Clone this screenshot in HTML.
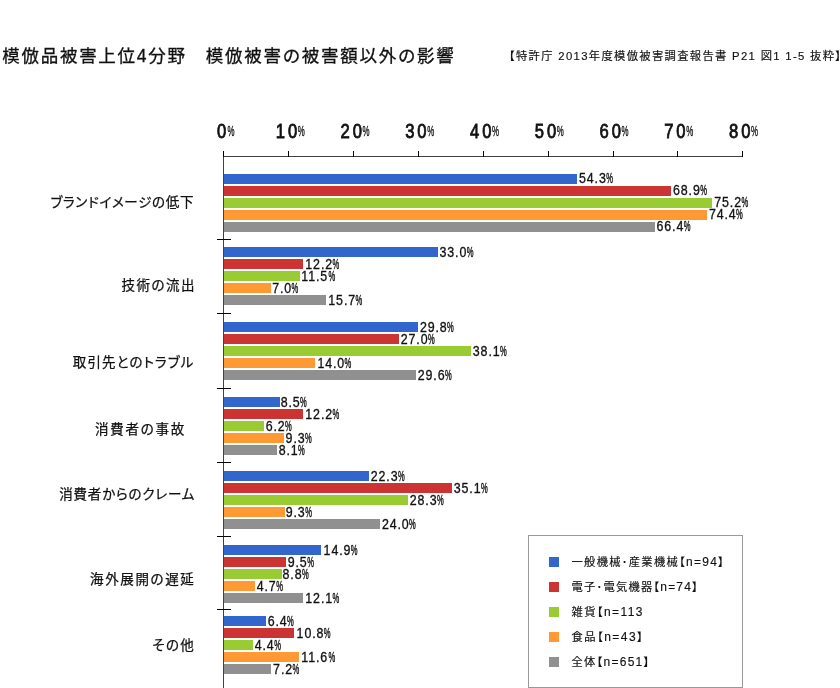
<!DOCTYPE html>
<html lang="ja">
<head>
<meta charset="utf-8">
<title>模倣品被害上位4分野 模倣被害の被害額以外の影響</title>
<style>
html,body{margin:0;padding:0;background:#fff;}
body{width:840px;height:688px;overflow:hidden;}
svg{display:block;}
text{font-family:"Liberation Sans","Noto Sans CJK JP",sans-serif;fill:#111;}
.title{font-size:17.5px;stroke:#111;stroke-width:.3px;}
.src{font-size:11.3px;font-feature-settings:"palt";stroke:#111;stroke-width:.15px;}
.cat{font-size:13.5px;font-feature-settings:"palt";stroke:#111;stroke-width:.25px;}
.ax{font-size:19.8px;stroke:#111;stroke-width:.75px;vector-effect:non-scaling-stroke;}
.axp{font-size:14.6px;stroke:#111;stroke-width:.3px;vector-effect:non-scaling-stroke;}
.v{font-size:13.8px;stroke:#111;stroke-width:.3px;vector-effect:non-scaling-stroke;}
.vp{font-size:13.8px;stroke:#111;stroke-width:.35px;vector-effect:non-scaling-stroke;}
.lg{font-size:11.3px;font-feature-settings:"palt";stroke:#111;stroke-width:.15px;}
.ln{font-size:12px;}
</style>
</head>
<body>
<svg width="840" height="688" viewBox="0 0 840 688">
<rect width="840" height="688" fill="#fff"/>
<text class="title" x="2.3" y="61.8" textLength="451.5" lengthAdjust="spacing">模倣品被害上位4分野　模倣被害の被害額以外の影響</text>
<text class="src" x="509" y="60" textLength="332" lengthAdjust="spacing">【特許庁 2013年度模倣被害調査報告書 P21 図1 1-5 抜粋】</text>
<g shape-rendering="crispEdges">
<rect x="223" y="156" width="520" height="1" fill="#404040"/>
<rect x="223" y="156" width="1" height="532" fill="#404040"/>
<rect x="223" y="151" width="1" height="6" fill="#000"/>
<rect x="288" y="151" width="1" height="6" fill="#000"/>
<rect x="353" y="151" width="1" height="6" fill="#000"/>
<rect x="418" y="151" width="1" height="6" fill="#000"/>
<rect x="483" y="151" width="1" height="6" fill="#000"/>
<rect x="548" y="151" width="1" height="6" fill="#000"/>
<rect x="613" y="151" width="1" height="6" fill="#000"/>
<rect x="677" y="151" width="1" height="6" fill="#000"/>
<rect x="742" y="151" width="1" height="6" fill="#000"/>
<rect x="217" y="239" width="14" height="1" fill="#000"/>
<rect x="217" y="313" width="14" height="1" fill="#000"/>
<rect x="217" y="388" width="14" height="1" fill="#000"/>
<rect x="217" y="462" width="14" height="1" fill="#000"/>
<rect x="217" y="536" width="14" height="1" fill="#000"/>
<rect x="217" y="609" width="14" height="1" fill="#000"/>
</g>
<text class="ax" transform="translate(216.9,137.7) scale(.84,1)" letter-spacing="3.45">0</text>
<text class="axp" transform="translate(227.4,136) scale(.54,1)">%</text>
<text class="ax" transform="translate(275.8,137.7) scale(.84,1)" letter-spacing="3.45">10</text>
<text class="axp" transform="translate(297.8,136) scale(.54,1)">%</text>
<text class="ax" transform="translate(340.5,137.7) scale(.84,1)" letter-spacing="3.45">20</text>
<text class="axp" transform="translate(362.5,136) scale(.54,1)">%</text>
<text class="ax" transform="translate(405.2,137.7) scale(.84,1)" letter-spacing="3.45">30</text>
<text class="axp" transform="translate(427.2,136) scale(.54,1)">%</text>
<text class="ax" transform="translate(470.0,137.7) scale(.84,1)" letter-spacing="3.45">40</text>
<text class="axp" transform="translate(492.0,136) scale(.54,1)">%</text>
<text class="ax" transform="translate(534.8,137.7) scale(.84,1)" letter-spacing="3.45">50</text>
<text class="axp" transform="translate(556.8,136) scale(.54,1)">%</text>
<text class="ax" transform="translate(599.5,137.7) scale(.84,1)" letter-spacing="3.45">60</text>
<text class="axp" transform="translate(621.5,136) scale(.54,1)">%</text>
<text class="ax" transform="translate(664.2,137.7) scale(.84,1)" letter-spacing="3.45">70</text>
<text class="axp" transform="translate(686.2,136) scale(.54,1)">%</text>
<text class="ax" transform="translate(729.0,137.7) scale(.84,1)" letter-spacing="3.45">80</text>
<text class="axp" transform="translate(751.0,136) scale(.54,1)">%</text>
<g shape-rendering="crispEdges">
<rect x="224" y="174" width="353" height="10" fill="#3366cc"/>
<rect x="224" y="186" width="447" height="10" fill="#cc3333"/>
<rect x="224" y="198" width="488" height="10" fill="#99cc33"/>
<rect x="224" y="210" width="483" height="10" fill="#ff9933"/>
<rect x="224" y="222" width="431" height="10" fill="#909090"/>
<rect x="224" y="247" width="214" height="10" fill="#3366cc"/>
<rect x="224" y="259" width="79" height="10" fill="#cc3333"/>
<rect x="224" y="271" width="76" height="10" fill="#99cc33"/>
<rect x="224" y="283" width="47" height="10" fill="#ff9933"/>
<rect x="224" y="295" width="102" height="10" fill="#909090"/>
<rect x="224" y="322" width="194" height="10" fill="#3366cc"/>
<rect x="224" y="334" width="175" height="10" fill="#cc3333"/>
<rect x="224" y="346" width="247" height="10" fill="#99cc33"/>
<rect x="224" y="358" width="91" height="10" fill="#ff9933"/>
<rect x="224" y="370" width="192" height="10" fill="#909090"/>
<rect x="224" y="397" width="56" height="10" fill="#3366cc"/>
<rect x="224" y="409" width="79" height="10" fill="#cc3333"/>
<rect x="224" y="421" width="40" height="10" fill="#99cc33"/>
<rect x="224" y="433" width="60" height="10" fill="#ff9933"/>
<rect x="224" y="445" width="53" height="10" fill="#909090"/>
<rect x="224" y="471" width="145" height="10" fill="#3366cc"/>
<rect x="224" y="483" width="228" height="10" fill="#cc3333"/>
<rect x="224" y="495" width="184" height="10" fill="#99cc33"/>
<rect x="224" y="507" width="61" height="10" fill="#ff9933"/>
<rect x="224" y="519" width="156" height="10" fill="#909090"/>
<rect x="224" y="545" width="97" height="10" fill="#3366cc"/>
<rect x="224" y="557" width="62" height="10" fill="#cc3333"/>
<rect x="224" y="569" width="58" height="10" fill="#99cc33"/>
<rect x="224" y="581" width="31" height="10" fill="#ff9933"/>
<rect x="224" y="593" width="79" height="10" fill="#909090"/>
<rect x="224" y="616" width="42" height="10" fill="#3366cc"/>
<rect x="224" y="628" width="70" height="10" fill="#cc3333"/>
<rect x="224" y="640" width="29" height="10" fill="#99cc33"/>
<rect x="224" y="652" width="75" height="10" fill="#ff9933"/>
<rect x="224" y="664" width="47" height="10" fill="#909090"/>
</g>
<text class="v" transform="translate(579.0,183.0) scale(0.9,1)" letter-spacing="1.0">54.3</text>
<text class="vp" transform="translate(606.3,183.0) scale(.55,1)">%</text>
<text class="v" transform="translate(673.0,195.0) scale(0.9,1)" letter-spacing="1.0">68.9</text>
<text class="vp" transform="translate(700.2,195.0) scale(.55,1)">%</text>
<text class="v" transform="translate(714.2,207.0) scale(0.9,1)" letter-spacing="1.0">75.2</text>
<text class="vp" transform="translate(741.4,207.0) scale(.55,1)">%</text>
<text class="v" transform="translate(708.9,219.0) scale(0.9,1)" letter-spacing="1.0">74.4</text>
<text class="vp" transform="translate(736.1,219.0) scale(.55,1)">%</text>
<text class="v" transform="translate(656.5,231.0) scale(0.9,1)" letter-spacing="1.0">66.4</text>
<text class="vp" transform="translate(683.7,231.0) scale(.55,1)">%</text>
<text class="v" transform="translate(439.5,256.8) scale(0.9,1)" letter-spacing="1.0">33.0</text>
<text class="vp" transform="translate(466.8,256.8) scale(.55,1)">%</text>
<text class="v" transform="translate(305.3,268.8) scale(0.9,1)" letter-spacing="1.0">12.2</text>
<text class="vp" transform="translate(332.5,268.8) scale(.55,1)">%</text>
<text class="v" transform="translate(301.3,280.8) scale(0.9,1)" letter-spacing="1.0">11.5</text>
<text class="vp" transform="translate(328.5,280.8) scale(.55,1)">%</text>
<text class="v" transform="translate(272.2,292.8) scale(0.9,1)" letter-spacing="1.0">7.0</text>
<text class="vp" transform="translate(291.6,292.8) scale(.55,1)">%</text>
<text class="v" transform="translate(328.3,304.8) scale(0.9,1)" letter-spacing="1.0">15.7</text>
<text class="vp" transform="translate(355.5,304.8) scale(.55,1)">%</text>
<text class="v" transform="translate(419.9,331.8) scale(0.9,1)" letter-spacing="1.0">29.8</text>
<text class="vp" transform="translate(447.1,331.8) scale(.55,1)">%</text>
<text class="v" transform="translate(400.7,343.8) scale(0.9,1)" letter-spacing="1.0">27.0</text>
<text class="vp" transform="translate(427.9,343.8) scale(.55,1)">%</text>
<text class="v" transform="translate(472.8,355.8) scale(0.9,1)" letter-spacing="1.0">38.1</text>
<text class="vp" transform="translate(500.1,355.8) scale(.55,1)">%</text>
<text class="v" transform="translate(317.4,367.8) scale(0.9,1)" letter-spacing="1.0">14.0</text>
<text class="vp" transform="translate(344.6,367.8) scale(.55,1)">%</text>
<text class="v" transform="translate(417.7,379.8) scale(0.9,1)" letter-spacing="1.0">29.6</text>
<text class="vp" transform="translate(444.9,379.8) scale(.55,1)">%</text>
<text class="v" transform="translate(280.7,406.8) scale(0.9,1)" letter-spacing="1.0">8.5</text>
<text class="vp" transform="translate(300.1,406.8) scale(.55,1)">%</text>
<text class="v" transform="translate(305.3,418.8) scale(0.9,1)" letter-spacing="1.0">12.2</text>
<text class="vp" transform="translate(332.5,418.8) scale(.55,1)">%</text>
<text class="v" transform="translate(265.7,430.8) scale(0.9,1)" letter-spacing="1.0">6.2</text>
<text class="vp" transform="translate(285.1,430.8) scale(.55,1)">%</text>
<text class="v" transform="translate(285.6,442.8) scale(0.9,1)" letter-spacing="1.0">9.3</text>
<text class="vp" transform="translate(305.1,442.8) scale(.55,1)">%</text>
<text class="v" transform="translate(278.7,454.8) scale(0.9,1)" letter-spacing="1.0">8.1</text>
<text class="vp" transform="translate(298.1,454.8) scale(.55,1)">%</text>
<text class="v" transform="translate(370.7,480.8) scale(0.9,1)" letter-spacing="1.0">22.3</text>
<text class="vp" transform="translate(397.9,480.8) scale(.55,1)">%</text>
<text class="v" transform="translate(453.7,492.8) scale(0.9,1)" letter-spacing="1.0">35.1</text>
<text class="vp" transform="translate(481.0,492.8) scale(.55,1)">%</text>
<text class="v" transform="translate(409.7,504.8) scale(0.9,1)" letter-spacing="1.0">28.3</text>
<text class="vp" transform="translate(436.9,504.8) scale(.55,1)">%</text>
<text class="v" transform="translate(285.7,516.8) scale(0.9,1)" letter-spacing="1.0">9.3</text>
<text class="vp" transform="translate(305.2,516.8) scale(.55,1)">%</text>
<text class="v" transform="translate(381.9,528.8) scale(0.9,1)" letter-spacing="1.0">24.0</text>
<text class="vp" transform="translate(409.1,528.8) scale(.55,1)">%</text>
<text class="v" transform="translate(323.6,554.8) scale(0.9,1)" letter-spacing="1.0">14.9</text>
<text class="vp" transform="translate(350.8,554.8) scale(.55,1)">%</text>
<text class="v" transform="translate(287.7,566.8) scale(0.9,1)" letter-spacing="1.0">9.5</text>
<text class="vp" transform="translate(307.2,566.8) scale(.55,1)">%</text>
<text class="v" transform="translate(282.5,578.8) scale(0.9,1)" letter-spacing="1.0">8.8</text>
<text class="vp" transform="translate(301.9,578.8) scale(.55,1)">%</text>
<text class="v" transform="translate(256.7,590.8) scale(0.9,1)" letter-spacing="1.0">4.7</text>
<text class="vp" transform="translate(276.2,590.8) scale(.55,1)">%</text>
<text class="v" transform="translate(305.3,602.8) scale(0.9,1)" letter-spacing="1.0">12.1</text>
<text class="vp" transform="translate(332.5,602.8) scale(.55,1)">%</text>
<text class="v" transform="translate(267.7,625.8) scale(0.9,1)" letter-spacing="1.0">6.4</text>
<text class="vp" transform="translate(287.1,625.8) scale(.55,1)">%</text>
<text class="v" transform="translate(296.6,637.8) scale(0.9,1)" letter-spacing="1.0">10.8</text>
<text class="vp" transform="translate(323.8,637.8) scale(.55,1)">%</text>
<text class="v" transform="translate(254.7,649.8) scale(0.9,1)" letter-spacing="1.0">4.4</text>
<text class="vp" transform="translate(274.2,649.8) scale(.55,1)">%</text>
<text class="v" transform="translate(301.3,661.8) scale(0.9,1)" letter-spacing="1.0">11.6</text>
<text class="vp" transform="translate(328.5,661.8) scale(.55,1)">%</text>
<text class="v" transform="translate(273.1,673.8) scale(0.9,1)" letter-spacing="1.0">7.2</text>
<text class="vp" transform="translate(292.5,673.8) scale(.55,1)">%</text>
<text class="cat" x="50.5" y="207.3" textLength="142.9" lengthAdjust="spacing">ブランドイメージの低下</text>
<text class="cat" x="121.4" y="289.5" textLength="73.0" lengthAdjust="spacing">技術の流出</text>
<text class="cat" x="72.8" y="367.1" textLength="120.6" lengthAdjust="spacing">取引先とのトラブル</text>
<text class="cat" x="95.1" y="433.5" textLength="89.2" lengthAdjust="spacing">消費者の事故</text>
<text class="cat" x="59.2" y="499.3" textLength="135.2" lengthAdjust="spacing">消費者からのクレーム</text>
<text class="cat" x="90.0" y="583.5" textLength="103.8" lengthAdjust="spacing">海外展開の遅延</text>
<text class="cat" x="152.4" y="649.5" textLength="41.4" lengthAdjust="spacing">その他</text>
<rect x="528.5" y="535.5" width="214" height="152" fill="#fff" stroke="#999" stroke-width="1"/>
<rect x="549" y="557" width="10" height="10" fill="#3366cc" shape-rendering="crispEdges"/>
<text class="lg" x="571.5" y="566.3" textLength="152.3" lengthAdjust="spacing">一般機械･産業機械【<tspan class="ln">n=94</tspan>】</text>
<rect x="549" y="582" width="10" height="10" fill="#cc3333" shape-rendering="crispEdges"/>
<text class="lg" x="571.5" y="591.3" textLength="126.3" lengthAdjust="spacing">電子･電気機器【<tspan class="ln">n=74</tspan>】</text>
<rect x="549" y="607" width="10" height="10" fill="#99cc33" shape-rendering="crispEdges"/>
<text class="lg" x="571.5" y="616.3" textLength="70.9" lengthAdjust="spacing">雑貨【<tspan class="ln">n=113</tspan></text>
<rect x="549" y="632" width="10" height="10" fill="#ff9933" shape-rendering="crispEdges"/>
<text class="lg" x="571.5" y="641.3" textLength="71.2" lengthAdjust="spacing">食品【<tspan class="ln">n=43</tspan>】</text>
<rect x="549" y="657" width="10" height="10" fill="#909090" shape-rendering="crispEdges"/>
<text class="lg" x="571.5" y="666.3" textLength="77.7" lengthAdjust="spacing">全体【<tspan class="ln">n=651</tspan>】</text>
</svg>
</body>
</html>
